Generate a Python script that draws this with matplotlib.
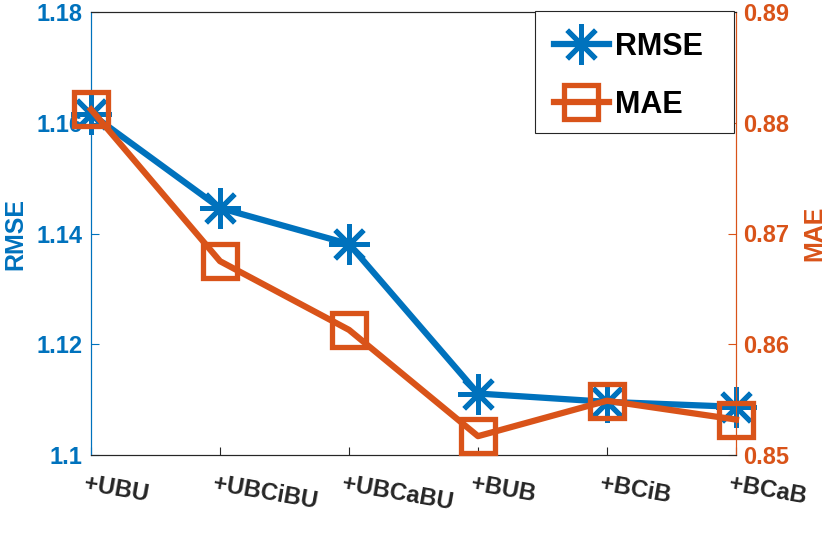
import matplotlib
matplotlib.use("Agg")
import matplotlib.pyplot as plt
from matplotlib.transforms import ScaledTranslation
from matplotlib.patches import Rectangle

categories = ["+UBU", "+UBCiBU", "+UBCaBU", "+BUB", "+BCiB", "+BCaB"]
rmse = [1.1616, 1.1446, 1.1381, 1.1111, 1.1096, 1.1087]
mae = [0.8812, 0.8675, 0.8613, 0.8517, 0.8549, 0.8532]
rmse_ticks = [1.1, 1.12, 1.14, 1.16, 1.18]
rmse_ticklabels = ["1.1", "1.12", "1.14", "1.16", "1.18"]
mae_ticks = [0.85, 0.86, 0.87, 0.88, 0.89]
mae_ticklabels = ["0.85", "0.86", "0.87", "0.88", "0.89"]

blue = "#0072BD"
orange = "#D95319"
dark = "#262626"

plt.rcParams["font.family"] = ["Liberation Sans", "DejaVu Sans"]
plt.rcParams["font.weight"] = "bold"

W, H = 830, 544
fig = plt.figure(figsize=(W/100, H/100), dpi=100)
ax = fig.add_axes([91/W, 1 - 455/H, (736-91)/W, (455-12)/H])
ax2 = ax.twinx()

x = list(range(1, len(categories) + 1))
l1, = ax.plot(x, rmse, color=blue, lw=4.5, marker=(8, 2, 0), ms=29, mew=3.6,
              label="RMSE", zorder=3, clip_on=False)
l2, = ax2.plot(x, mae, color=orange, lw=4.5, marker="s", ms=24, mew=3.8,
               mfc="none", label="MAE", zorder=3, clip_on=False)

ax.set_xlim(1, 6)
ax.set_ylim(1.1, 1.18)
ax2.set_ylim(0.85, 0.89)
ax.set_xticks(x)
ax.set_xticklabels([])
off = ScaledTranslation(-5/100, -17/100, fig.dpi_scale_trans)
for xi, lab in zip(x, categories):
    ax.text(xi, 0, lab, transform=ax.get_xaxis_transform() + off,
            rotation=-10, rotation_mode="anchor", ha="left", va="top",
            fontsize=17, fontweight="bold", color=dark, clip_on=False)

ax.set_yticks(rmse_ticks)
ax.set_yticklabels(rmse_ticklabels, fontsize=17, fontweight="bold", color=blue)
ax2.set_yticks(mae_ticks)
ax2.set_yticklabels(mae_ticklabels, fontsize=17, fontweight="bold", color=orange)

ax.tick_params(axis="x", direction="in", length=6, width=0.8, color=dark)
ax.tick_params(axis="y", direction="in", length=6, width=0.8, color=blue, pad=6)
ax2.tick_params(axis="y", direction="in", length=6, width=0.8, color=orange, pad=5)

for a in (ax, ax2):
    a.spines["top"].set_color(dark)
    a.spines["bottom"].set_color(dark)
    a.spines["left"].set_color(blue)
    a.spines["right"].set_color(orange)
    for s in a.spines.values():
        s.set_linewidth(0.8)

fig.text(15/W, 1 - 234/H, "RMSE", rotation=90, ha="center", va="center",
         fontsize=18, fontweight="bold", color=blue)
fig.text(814/W, 1 - 233/H, "MAE", rotation=90, ha="center", va="center",
         fontsize=18, fontweight="bold", color=orange)

# legend frame
frame = Rectangle((535/W, 1 - 133/H), 199/W, 122/H, transform=fig.transFigure,
                  facecolor="white", edgecolor=dark, lw=0.8, zorder=4,
                  clip_on=False)
ax2.add_patch(frame)
leg = ax2.legend([l1, l2], ["RMSE", "MAE"], loc="upper left",
                 bbox_to_anchor=(537/W, 1 - 15/H), bbox_transform=fig.transFigure,
                 frameon=False, borderaxespad=0.0,
                 prop={"size": 22, "weight": "bold"}, handlelength=1.8,
                 numpoints=1, borderpad=0.55, labelspacing=0.92, handletextpad=0.2)
leg.set_zorder(5)

fig.savefig("out.png", dpi=100)
